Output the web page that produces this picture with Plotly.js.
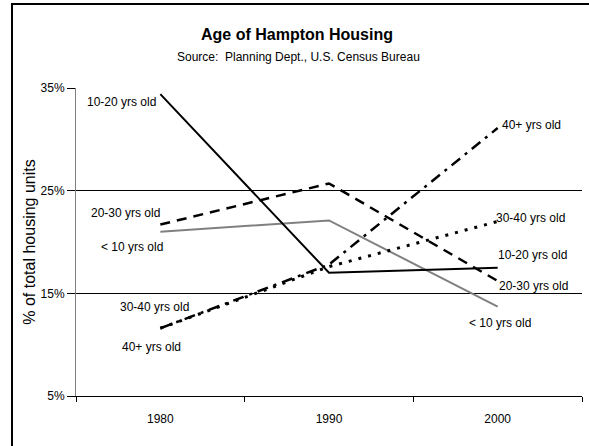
<!DOCTYPE html>
<html>
<head>
<meta charset="utf-8">
<script src="https://cdn.plot.ly/plotly-3.0.1.min.js"></script>
<style>
  html, body { margin: 0; padding: 0; background: #fff; }
  #chart { width: 589px; height: 446px; }
</style>
</head>
<body>
<div id="chart"></div>
<script>
// ---- Data ----
const years = ['1980', '1990', '2000'];
const under10 = [21.0, 22.1, 13.7];
const age10to20 = [34.4, 17.0, 17.5];
const age20to30 = [21.7, 25.7, 16.2];
const age30to40 = [11.6, 17.6, 22.0];
const age40plus = [11.6, 17.8, 31.1];
const yTicks = [5, 15, 25, 35];
const yTickLabels = ['5%', '15%', '25%', '35%'];

// label texts
const lblUnder10 = '< 10 yrs old';
const lbl10to20 = '10-20 yrs old';
const lbl20to30 = '20-30 yrs old';
const lbl30to40 = '30-40 yrs old';
const lbl40plus = '40+ yrs old';

const FONT = '"Liberation Sans", Arial, sans-serif';

const traces = [
  { x: years, y: under10, name: lblUnder10, mode: 'lines', line: { color: '#808080', width: 2 } },
  { x: years, y: age10to20, name: lbl10to20, mode: 'lines', line: { color: '#000', width: 2 } },
  { x: years, y: age20to30, name: lbl20to30, mode: 'lines', line: { color: '#000', width: 2.5, dash: '10px,7px' } },
  { x: years, y: age30to40, name: lbl30to40, mode: 'lines', line: { color: '#000', width: 3, dash: '3px,7px' } },
  { x: years, y: age40plus, name: lbl40plus, mode: 'lines', line: { color: '#000', width: 2.5, dash: '11px,6px,3px,6px' } }
];

function lab(text, x, y) {
  return { text: text, x: x, y: y, xref: 'x', yref: 'y', showarrow: false,
           font: { family: FONT, size: 12, color: '#000' }, xanchor: 'center', yanchor: 'middle' };
}

const annotations = [
  lab(lbl10to20, -0.233, 33.6),
  lab(lbl20to30, -0.204, 22.8),
  lab(lblUnder10, -0.168, 19.5),
  lab(lbl30to40, -0.032, 13.67),
  lab(lbl40plus, -0.055, 9.77),
  lab(lbl40plus, 2.198, 31.4),
  lab(lbl30to40, 2.192, 22.33),
  lab(lbl10to20, 2.204, 18.73),
  lab(lbl20to30, 2.215, 15.71),
  lab(lblUnder10, 2.014, 12.11),
  { text: 'Source:  Planning Dept., U.S. Census Bureau', xref: 'paper', yref: 'paper',
    x: (298 - 76) / 506, y: (396 - 57) / 308, showarrow: false, xanchor: 'center', yanchor: 'middle',
    font: { family: FONT, size: 12, color: '#000' } }
];

const layout = {
  width: 589, height: 446,
  margin: { l: 76, r: 7, t: 88, b: 50 },
  paper_bgcolor: '#fff', plot_bgcolor: '#fff',
  showlegend: false,
  font: { family: FONT, size: 12, color: '#000' },
  title: { text: '<b>Age of Hampton Housing</b>', x: 297 / 589, xanchor: 'center',
           y: 1 - 34 / 446, yanchor: 'middle', yref: 'container',
           font: { family: FONT, size: 16, color: '#000' } },
  xaxis: {
    type: 'category', range: [-0.5, 2.5],
    showline: true, linecolor: '#000', linewidth: 1,
    ticks: 'outside', tickson: 'boundaries', ticklen: 5, tickcolor: '#000',
    showgrid: false, zeroline: false, ticklabelstandoff: 12,
    tickfont: { family: FONT, size: 12 }
  },
  yaxis: {
    range: [5, 35], tickmode: 'array', tickvals: yTicks, ticktext: yTickLabels,
    showline: true, linecolor: '#808080', linewidth: 1,
    ticks: 'outside', ticklen: 8, tickcolor: '#000',
    showgrid: true, gridcolor: '#000', gridwidth: 1, zeroline: false,
    tickfont: { family: FONT, size: 12 },
    automargin: false,
    title: { text: '% of total housing units', standoff: 0,
             font: { family: FONT, size: 16 } }
  },
  shapes: [
    { type: 'path', xref: 'paper', yref: 'paper',
      path: 'M ' + ((12 - 76) / 506) + ',' + ((396 - 447) / 308) + ' L ' + ((12 - 76) / 506) + ',' + ((396 - 4) / 308) +
            ' L ' + ((590 - 76) / 506) + ',' + ((396 - 4) / 308),
      line: { color: '#000', width: 2 } }
  ],
  annotations: annotations
};

Plotly.newPlot('chart', traces, layout, { displayModeBar: false, staticPlot: true });
</script>
</body>
</html>
